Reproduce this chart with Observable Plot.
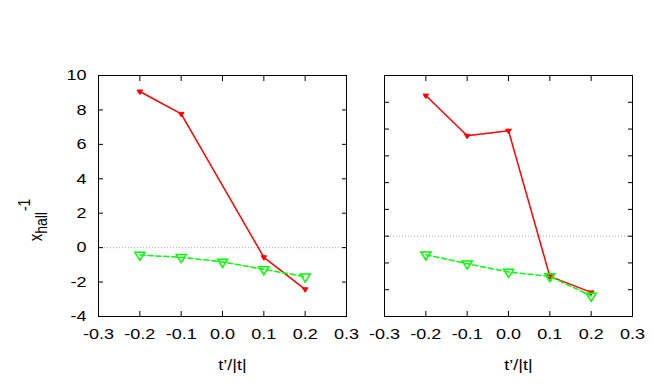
<!DOCTYPE html>
<html>
<head>
<meta charset="utf-8">
<script src="https://cdn.jsdelivr.net/npm/d3@7"></script>
<script src="https://cdn.jsdelivr.net/npm/@observablehq/plot@0.6"></script>
<style>
  html, body { margin: 0; padding: 0; background: white; }
  #chart { position: relative; width: 654px; height: 389px; }
  #chart svg { position: absolute; top: 0; }
</style>
</head>
<body>
<div id="chart"></div>
<script>
// ---- data ----
const tValues = [-0.2, -0.1, 0.0, 0.1, 0.2];
// left panel
const leftRed   = [9.07, 7.77, null, -0.56, -2.42];
const leftGreen = [-0.43, -0.56, -0.83, -1.26, -1.69];
// right panel
const rightRed   = [5.25, 3.75, 3.94, -1.50, -2.10];
const rightGreen = [-0.69, -1.03, -1.34, -1.50, -2.23];
// ticks / labels
const xTicks = [-0.3, -0.2, -0.1, 0.0, 0.1, 0.2, 0.3];
const leftYTicks = [-4, -2, 0, 2, 4, 6, 8, 10];
const rightYTicks = [-3, -2, -1, 0, 1, 2, 3, 4, 5, 6];
const xLabel = "t’/|t|";
const yLabelMain = "x", yLabelSub = "hall", yLabelSup = "-1";

const font = "'Liberation Sans', Arial, Helvetica, sans-serif";
const stretch = 1.2; // glyphs in the reference are wider than tall

// down-pointing triangle, a bit wider than tall (like the reference markers)
const triDown = {
  draw(context, size) {
    const r = Math.sqrt(size / Math.PI);
    context.moveTo(-1.4 * r, -0.75 * r);
    context.lineTo(1.4 * r, -0.75 * r);
    context.lineTo(0, 1.5 * r);
    context.closePath();
  }
};

function series(ys) {
  return tValues.map((t, i) => ({t, v: ys[i]})).filter(d => d.v !== null);
}

function panel({width, marginLeft, marginRight, yDomain, yTicks, yLabels, red, green}) {
  const redData = series(red), greenData = series(green);
  return Plot.plot({
    width, height: 389,
    marginLeft, marginRight, marginTop: 75, marginBottom: 73,
    style: {fontFamily: font, fontSize: "15px", background: "white", color: "black"},
    x: {domain: [-0.3, 0.3], axis: null},
    y: {domain: yDomain, axis: null},
    marks: [
      Plot.ruleY([0], {stroke: "#aaa", strokeWidth: 1, strokeDasharray: "1,2"}),
      // inward ticks on all four sides
      Plot.axisX({anchor: "bottom", ticks: xTicks, tickSize: -5, tickFormat: () => "", label: null}),
      Plot.axisX({anchor: "top", ticks: xTicks, tickSize: -5, tickFormat: () => "", label: null}),
      Plot.axisY({anchor: "left", ticks: yTicks, tickSize: -5, tickFormat: () => "", label: null}),
      Plot.axisY({anchor: "right", ticks: yTicks, tickSize: -5, tickFormat: () => "", label: null}),
      // tick labels
      Plot.axisX({anchor: "bottom", ticks: xTicks, tickSize: 0, tickPadding: 12, fontSize: 15,
                  tickFormat: d => d.toFixed(1), label: null}),
      yLabels ? Plot.axisY({anchor: "left", ticks: yTicks, tickSize: 0, tickPadding: 12, fontSize: 15,
                  tickFormat: d => String(d), label: null}) : null,
      Plot.frame({stroke: "black", strokeWidth: 1}),
      Plot.line(redData, {x: "t", y: "v", stroke: "#ff0000", strokeWidth: 1.5}),
      Plot.dot(redData, {x: "t", y: "v", symbol: triDown, r: 2, fill: "#ff0000", stroke: "#ff0000", strokeWidth: 1}),
      Plot.line(greenData, {x: "t", y: "v", stroke: "#00ff00", strokeWidth: 1.5, strokeDasharray: "5,3"}),
      Plot.dot(greenData, {x: "t", y: "v", symbol: triDown, r: 3.6, fill: "none", stroke: "#00ff00", strokeWidth: 1.5}),
      Plot.text([xLabel], {frameAnchor: "bottom", dy: 49, dx: 10, fontSize: 15, lineAnchor: "middle"})
    ]
  });
}

const chart = document.getElementById("chart");

const left = panel({width: 360, marginLeft: 98, marginRight: 14,
  yDomain: [-4, 10], yTicks: leftYTicks, yLabels: true, red: leftRed, green: leftGreen});
left.style.left = "0px";
chart.appendChild(left);

const right = panel({width: 294, marginLeft: 24, marginRight: 22,
  yDomain: [-3, 6], yTicks: rightYTicks, yLabels: false, red: rightRed, green: rightGreen});
right.style.left = "360px";
chart.appendChild(right);

// widen the horizontal texts to the reference's proportions
d3.selectAll("#chart text").each(function () {
  const w = this.getComputedTextLength();
  if (w > 0) {
    this.setAttribute("textLength", w * stretch);
    this.setAttribute("lengthAdjust", "spacingAndGlyphs");
  }
});

// y axis title with subscript and superscript (rotated; stretched across)
const yt = d3.select(left).append("text")
  .attr("transform", `translate(42,220) scale(${stretch},1) rotate(-90)`)
  .attr("font-family", font)
  .attr("font-size", 15)
  .attr("fill", "black");
yt.append("tspan").text(yLabelMain);
yt.append("tspan").attr("font-size", 14).attr("dy", 4).text(yLabelSub);
yt.append("tspan").attr("font-size", 14).attr("dy", -14).attr("dx", 1).text(yLabelSup);
</script>
</body>
</html>
